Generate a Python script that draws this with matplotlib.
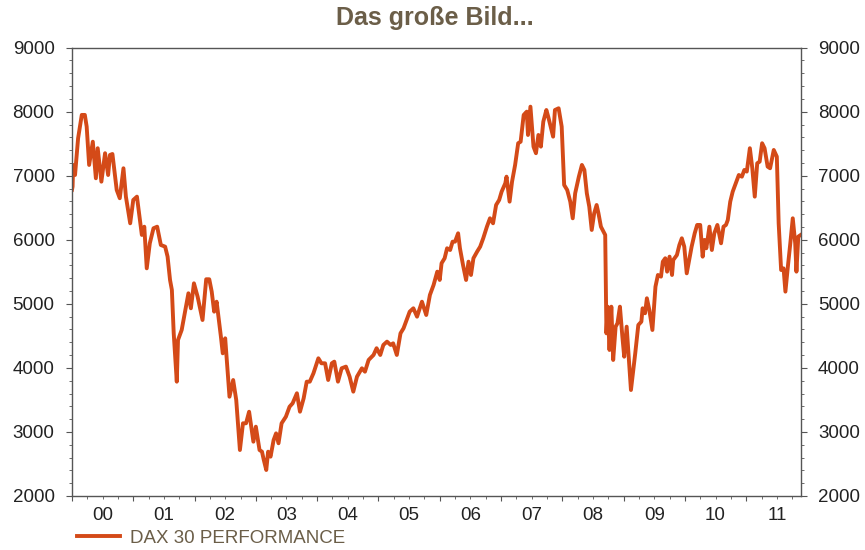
import matplotlib
matplotlib.use("Agg")
import matplotlib.pyplot as plt
import numpy as np

plt.rcParams['font.family'] = ['Liberation Sans', 'DejaVu Sans']

# DAX 30 Performance (Dezimaljahr, Indexstand)
jahre = [
    2000.00, 2000.01, 2000.02, 2000.05, 2000.10, 2000.16, 2000.21, 2000.24, 2000.28, 2000.34,
    2000.39, 2000.42, 2000.48, 2000.54, 2000.59, 2000.62, 2000.66, 2000.73, 2000.78, 2000.84,
    2000.88, 2000.95, 2001.00, 2001.06, 2001.14, 2001.18, 2001.22, 2001.27, 2001.33, 2001.39,
    2001.45, 2001.52, 2001.56, 2001.60, 2001.63, 2001.66, 2001.71, 2001.73, 2001.79, 2001.84,
    2001.90, 2001.94, 2001.99, 2002.05, 2002.13, 2002.19, 2002.24, 2002.28, 2002.32, 2002.36,
    2002.43, 2002.46, 2002.50, 2002.57, 2002.63, 2002.68, 2002.74, 2002.79, 2002.84, 2002.89,
    2002.96, 2003.00, 2003.06, 2003.10, 2003.13, 2003.17, 2003.20, 2003.24, 2003.29, 2003.33,
    2003.37, 2003.42, 2003.49, 2003.55, 2003.60, 2003.67, 2003.72, 2003.78, 2003.83, 2003.88,
    2003.94, 2004.02, 2004.07, 2004.13, 2004.18, 2004.24, 2004.28, 2004.34, 2004.40, 2004.47,
    2004.53, 2004.59, 2004.65, 2004.73, 2004.78, 2004.84, 2004.92, 2004.97, 2005.03, 2005.08,
    2005.14, 2005.20, 2005.24, 2005.30, 2005.36, 2005.41, 2005.51, 2005.57, 2005.63, 2005.71,
    2005.78, 2005.84, 2005.90, 2005.96, 2006.00, 2006.03, 2006.08, 2006.12, 2006.17, 2006.21,
    2006.25, 2006.30, 2006.33, 2006.38, 2006.43, 2006.47, 2006.51, 2006.55, 2006.61, 2006.66,
    2006.71, 2006.77, 2006.82, 2006.87, 2006.92, 2006.97, 2007.01, 2007.07, 2007.09, 2007.14,
    2007.18, 2007.23, 2007.28, 2007.32, 2007.37, 2007.42, 2007.44, 2007.48, 2007.53, 2007.57,
    2007.61, 2007.65, 2007.69, 2007.74, 2007.77, 2007.85, 2007.88, 2007.94, 2007.99, 2008.03,
    2008.08, 2008.13, 2008.17, 2008.21, 2008.27, 2008.32, 2008.36, 2008.40, 2008.44, 2008.48,
    2008.52, 2008.56, 2008.59, 2008.63, 2008.70, 2008.72, 2008.74, 2008.77, 2008.80, 2008.83,
    2008.87, 2008.90, 2008.94, 2008.98, 2009.01, 2009.05, 2009.08, 2009.12, 2009.19, 2009.24,
    2009.29, 2009.31, 2009.35, 2009.38, 2009.42, 2009.47, 2009.52, 2009.56, 2009.61, 2009.64,
    2009.68, 2009.71, 2009.75, 2009.79, 2009.81, 2009.87, 2009.91, 2009.95, 2009.99, 2010.03,
    2010.07, 2010.11, 2010.16, 2010.20, 2010.25, 2010.29, 2010.32, 2010.35, 2010.40, 2010.44,
    2010.48, 2010.53, 2010.59, 2010.63, 2010.67, 2010.70, 2010.74, 2010.78, 2010.82, 2010.88,
    2010.93, 2010.97, 2011.01, 2011.06, 2011.10, 2011.14, 2011.18, 2011.22, 2011.26, 2011.30,
    2011.35, 2011.39, 2011.45, 2011.50, 2011.53, 2011.57, 2011.61, 2011.64, 2011.68, 2011.72,
    2011.76, 2011.80, 2011.82, 2011.85, 2011.89,
]
dax = [
    6780, 6830, 7169, 7012, 7585, 7950, 7950, 7767, 7169, 7532,
    6961, 7430, 6908, 7352, 7012, 7325, 7340, 6778, 6649, 7117,
    6674, 6258, 6622, 6674, 6076, 6205, 5555, 5946, 6180, 6205,
    5919, 5893, 5737, 5373, 5217, 4540, 3785, 4436, 4592, 4853,
    5165, 4931, 5321, 5112, 4748, 5384, 5384, 5191, 4878, 5034,
    4487, 4228, 4462, 3550, 3811, 3499, 2718, 3135, 3135, 3316,
    2848, 3082, 2718, 2692, 2562, 2406, 2692, 2614, 2874, 2978,
    2823, 3135, 3238, 3394, 3447, 3604, 3316, 3525, 3785, 3785,
    3916, 4150, 4072, 4072, 3811, 4072, 4098, 3785, 3994, 4020,
    3863, 3629, 3863, 3994, 3941, 4124, 4202, 4307, 4202, 4358,
    4410, 4358, 4384, 4202, 4540, 4619, 4878, 4931, 4800, 5034,
    4826, 5139, 5295, 5503, 5373, 5634, 5712, 5868, 5841, 5971,
    5971, 6102, 5868, 5607, 5373, 5659, 5451, 5712, 5815, 5893,
    6024, 6205, 6336, 6258, 6544, 6622, 6752, 6883, 6986, 6596,
    6908, 7169, 7508, 7532, 7950, 8001, 7637, 8079, 7455, 7352,
    7637, 7455, 7845, 8027, 7923, 7611, 8027, 8054, 7767, 6856,
    6778, 6596, 6336, 6727, 6986, 7169, 7091, 6727, 6518, 6154,
    6414, 6544, 6414, 6205, 6076, 4540, 4956, 4280, 4956, 4124,
    4644, 4696, 4956, 4488, 4175, 4644, 4228, 3655, 4228, 4670,
    4722, 4931, 4853, 5087, 4904, 4592, 5269, 5451, 5425, 5659,
    5712, 5503, 5737, 5451, 5685, 5763, 5919, 6024, 5893, 5477,
    5685, 5893, 6102, 6232, 6232, 5737, 5998, 5868, 6205, 5841,
    6102, 6232, 5946, 6205, 6232, 6310, 6596, 6752, 6856, 7012,
    6986, 7091, 7065, 7430, 7117, 6674, 7195, 7221, 7508, 7430,
    7143, 7117, 7403, 7299, 6258, 5529, 5555, 5191, 5581, 5946,
    6336, 5946, 5503, 6050, 6076,
]
jahr_labels = ['00', '01', '02', '03', '04', '05', '06', '07', '08', '09', '10', '11']

linien_farbe = '#d44a18'
text_braun = '#6b5e48'
achsen_farbe = '#555555'

fig = plt.figure(figsize=(8.65, 5.5), dpi=100)
ax = fig.add_axes([0.0832, 0.0982, 0.8425, 0.8151])

linie, = ax.plot(jahre, dax, color=linien_farbe, lw=2.8, solid_joinstyle='round')

ax.set_xlim(2000.0, 2011.89)
ax.set_ylim(2000, 9000)

# y-Achse links und rechts
ax.set_yticks(np.arange(2000, 9001, 1000))
ax.set_yticks(np.arange(2000, 9001, 200), minor=True)
ax.tick_params(axis='y', which='both', left=True, right=True, labelleft=True, labelright=True,
               direction='out', colors=achsen_farbe, labelcolor='#222222', labelsize=13.5)
ax.tick_params(axis='y', which='major', length=4, pad=8.5)
ax.tick_params(axis='y', which='minor', length=2)

# x-Achse: Jahresgrenzen + Quartale, Beschriftung in Jahresmitte
grenzen = np.arange(2000, 2012)
ax.set_xticks(grenzen)
ax.set_xticklabels([])
quartale = [g + q for g in grenzen for q in (0.25, 0.5, 0.75)]
ax.set_xticks(quartale, minor=True)
ax.tick_params(axis='x', which='major', length=3.5, direction='out', colors=achsen_farbe)
ax.tick_params(axis='x', which='minor', length=2.2, direction='out', colors=achsen_farbe)

sek = ax.secondary_xaxis('bottom')
sek.set_xticks(grenzen + 0.5)
sek.set_xticklabels(jahr_labels)
sek.tick_params(length=0, pad=8, labelsize=13.5, labelcolor='#222222')
sek.spines['bottom'].set_visible(False)

for s in ax.spines.values():
    s.set_color(achsen_farbe)
    s.set_linewidth(1.0)

fig.text(0.503, 0.967, 'Das große Bild...', ha='center', va='center',
         fontsize=18, fontweight='bold', color=text_braun)

fig.legend([linie], ['DAX 30 PERFORMANCE'], loc='center left',
           bbox_to_anchor=(77 / 865, 1 - 538 / 550), borderaxespad=0, borderpad=0,
           frameon=False, fontsize=13.5, labelcolor=text_braun, handlelength=2.3,
           handletextpad=0.55)

fig.savefig('out.png', dpi=100)
